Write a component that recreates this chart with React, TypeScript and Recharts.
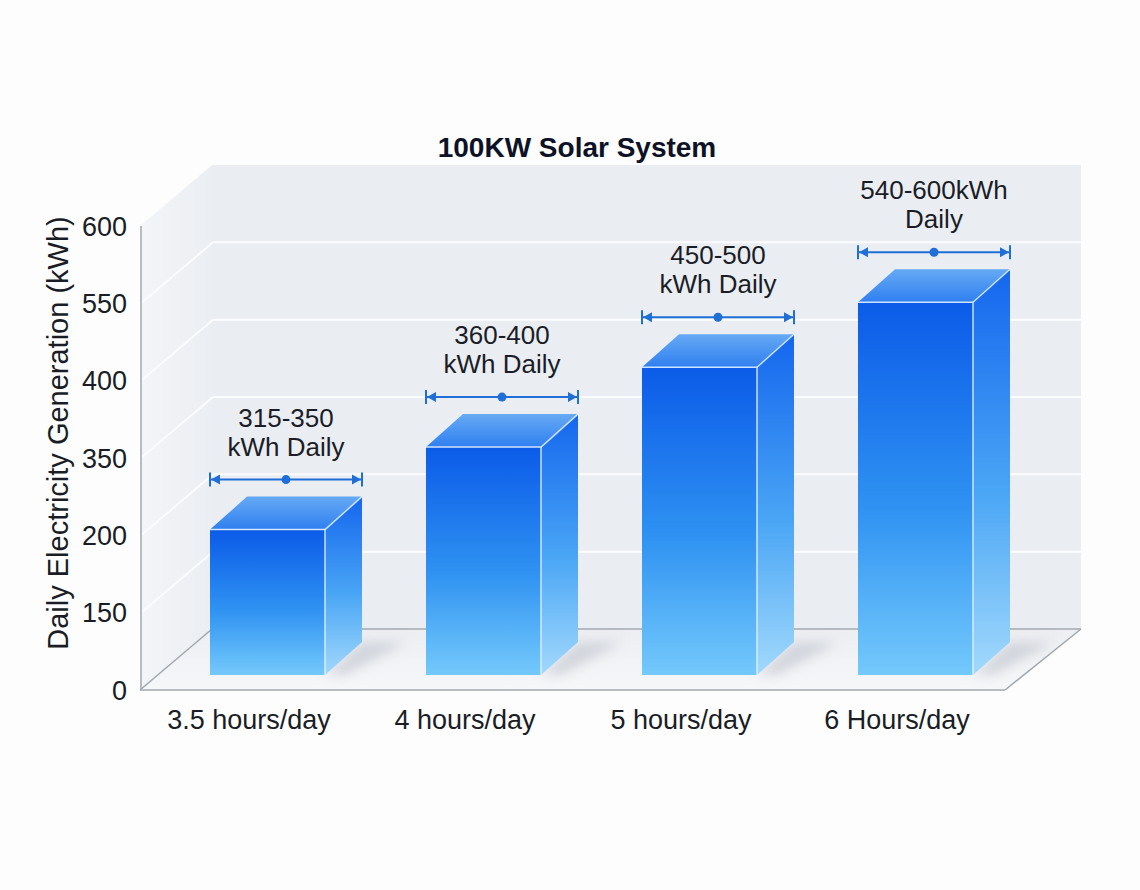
import { BarChart, Bar, XAxis, YAxis, CartesianGrid, LabelList, usePlotArea } from 'recharts'

// axis labels as printed on the chart (evenly spaced, not linear)
const TICK_VALUES = [0, 150, 200, 350, 400, 550, 600]
const CATEGORIES = ['3.5 hours/day', '4 hours/day', '5 hours/day', '6 Hours/day']
// bar heights
const KWH_VALUES = [194, 342, 399, 523]
const RANGE_TOP = ['315-350', '360-400', '450-500', '540-600kWh']
const RANGE_BOTTOM = ['kWh Daily', 'kWh Daily', 'kWh Daily', 'Daily']

const FONT = '"Liberation Sans", Arial, sans-serif'
const LINE_GREY = '#a3a8af'

// room depth (back wall offset) and bar offsets
const ROOM_DX = 72
const ROOM_DX_R = 76
const ROOM_DY = -61
const BAR_SHIFT_X = 18
const BAR_SHIFT_Y = -15
const BAR_DX = 37
const BAR_DY = -33

// map a printed value onto the evenly spaced tick slots
function toSlot(v: number) {
  for (let i = 0; i < TICK_VALUES.length - 1; i++) {
    const a = TICK_VALUES[i]
    const b = TICK_VALUES[i + 1]
    if (v >= a && v <= b) return i + (v - a) / (b - a)
  }
  return TICK_VALUES.length - 1
}

const data = CATEGORIES.map((name, i) => ({
  name,
  kwh: KWH_VALUES[i],
  slot: toSlot(KWH_VALUES[i]),
  top: RANGE_TOP[i],
  bottom: RANGE_BOTTOM[i],
}))

function Walls({ x, y, width, height }: { x: number; y: number; width: number; height: number }) {
  const l = x - 1
  const r = x + width
  const b = y + height
  return (
    <g>
      <polygon
        points={`${l},${y} ${l + ROOM_DX},${y + ROOM_DY} ${l + ROOM_DX},${b + ROOM_DY} ${l},${b}`}
        fill="url(#leftWall)"
      />
      <rect x={l + ROOM_DX} y={y + ROOM_DY} width={r + ROOM_DX_R - l - ROOM_DX} height={height} fill="#eaedf2" />
      <polygon
        points={`${l},${b} ${l + ROOM_DX},${b + ROOM_DY} ${r + ROOM_DX_R},${b + ROOM_DY} ${r},${b}`}
        fill="url(#floor)"
      />
      <line x1={l + ROOM_DX} y1={b + ROOM_DY} x2={r + ROOM_DX_R} y2={b + ROOM_DY} stroke={LINE_GREY} strokeWidth={1.5} />
      <line x1={l} y1={b} x2={l + ROOM_DX} y2={b + ROOM_DY} stroke={LINE_GREY} strokeWidth={1.5} />
      <line x1={l} y1={b} x2={r} y2={b} stroke={LINE_GREY} strokeWidth={1.5} />
      <line x1={r} y1={b} x2={r + ROOM_DX_R} y2={b + ROOM_DY} stroke={LINE_GREY} strokeWidth={1.5} />
    </g>
  )
}

function Title() {
  const plot = usePlotArea()
  if (!plot) return null
  return (
    <text
      x={plot.x + plot.width / 2 + 4}
      y={157}
      textAnchor="middle"
      fontFamily={FONT}
      fontSize={28}
      fontWeight={700}
      fill="#0d1226"
    >
      100KW Solar System
    </text>
  )
}

// horizontal grid line projected onto the back wall; the first one also lays the room under the grid
function GridLine(props: any) {
  const { x1, y1, x2, y2, index } = props
  const plot = usePlotArea()
  if (!plot) return null
  const onEdge = Math.abs(y1 - plot.y) < 1 || Math.abs(y1 - (plot.y + plot.height)) < 1
  return (
    <g>
      {index === 0 && <Walls {...plot} />}
      {!onEdge && (
        <>
          <line x1={x1 + ROOM_DX} y1={y1 + ROOM_DY} x2={x2 + ROOM_DX_R} y2={y2 + ROOM_DY} stroke="#fbfcfe" strokeWidth={2} />
          <line x1={x1} y1={y1} x2={x1 + ROOM_DX} y2={y1 + ROOM_DY} stroke="#fbfcfe" strokeWidth={2} />
        </>
      )}
    </g>
  )
}

function Box3D(props: any) {
  const { x, y, width, height } = props
  const fx = x + BAR_SHIFT_X
  const fy = y + BAR_SHIFT_Y
  const fb = y + height + BAR_SHIFT_Y
  const fr = fx + width
  return (
    <g>
      <polygon
        points={`${fr},${fb} ${fr + BAR_DX},${fb + BAR_DY} ${fr + BAR_DX + 45},${fb + BAR_DY} ${fr + 20},${fb}`}
        fill="#b9bec7"
        opacity={0.55}
        filter="url(#softShadow)"
      />
      <rect x={fx} y={fy} width={width} height={fb - fy} fill="url(#frontFace)" />
      <polygon
        points={`${fr},${fy} ${fr + BAR_DX},${fy + BAR_DY} ${fr + BAR_DX},${fb + BAR_DY} ${fr},${fb}`}
        fill="url(#sideFace)"
      />
      <polygon
        points={`${fx},${fy} ${fx + BAR_DX},${fy + BAR_DY} ${fr + BAR_DX},${fy + BAR_DY} ${fr},${fy}`}
        fill="url(#topFace)"
      />
      <polyline
        points={`${fx},${fy} ${fr},${fy} ${fr},${fb}`}
        fill="none"
        stroke="#e8f4ff"
        strokeOpacity={0.85}
        strokeWidth={1.5}
      />
      <line x1={fr} y1={fy} x2={fr + BAR_DX} y2={fy + BAR_DY} stroke="#e8f4ff" strokeOpacity={0.8} strokeWidth={1.5} />
    </g>
  )
}

function RangeLabel(props: any) {
  const { x, y, width, index } = props
  const row = data[index]
  const fx = x + BAR_SHIFT_X
  const lx = fx
  const rx = fx + width + BAR_DX
  const cy = y + BAR_SHIFT_Y + BAR_DY - 17
  const cx = (lx + rx) / 2
  const blue = '#1f6fd6'
  return (
    <g>
      <line x1={lx} y1={cy} x2={rx} y2={cy} stroke={blue} strokeWidth={2} />
      <line x1={lx} y1={cy - 7} x2={lx} y2={cy + 7} stroke={blue} strokeWidth={2} />
      <line x1={rx} y1={cy - 7} x2={rx} y2={cy + 7} stroke={blue} strokeWidth={2} />
      <polygon points={`${lx + 1},${cy} ${lx + 10},${cy - 5} ${lx + 10},${cy + 5}`} fill={blue} />
      <polygon points={`${rx - 1},${cy} ${rx - 10},${cy - 5} ${rx - 10},${cy + 5}`} fill={blue} />
      <circle cx={cx} cy={cy} r={4.5} fill={blue} />
      <text x={cx} y={cy - 62} textAnchor="middle" dominantBaseline="central" fontFamily={FONT} fontSize={26} fill="#1a1d26">
        {row.top}
      </text>
      <text x={cx} y={cy - 33} textAnchor="middle" dominantBaseline="central" fontFamily={FONT} fontSize={26} fill="#1a1d26">
        {row.bottom}
      </text>
    </g>
  )
}

function YLabel(props: any) {
  const { viewBox } = props
  const cx = viewBox.x - 13
  const cy = viewBox.y + viewBox.height / 2 - 25
  return (
    <text
      x={cx}
      y={cy}
      transform={`rotate(-90, ${cx}, ${cy})`}
      textAnchor="middle"
      fontFamily={FONT}
      fontSize={29}
      fill="#1a1d26"
    >
      Daily Electricity Generation (kWh)
    </text>
  )
}

export default function App() {
  return (
    <div style={{ position: 'absolute', left: 0, top: 0, width: 1140, height: 890, background: '#fdfdfd' }}>
      <BarChart
        width={1140}
        height={890}
        data={data}
        margin={{ top: 226, right: 135, bottom: 170, left: 81 }}
        barSize={115}
      >
        <defs>
          <linearGradient id="leftWall" x1="0" y1="0" x2="1" y2="0">
            <stop offset="0%" stopColor="#f3f5f8" />
            <stop offset="100%" stopColor="#ebeef2" />
          </linearGradient>
          <linearGradient id="floor" x1="0" y1="0" x2="0" y2="1">
            <stop offset="0%" stopColor="#eceef2" />
            <stop offset="100%" stopColor="#f6f7f9" />
          </linearGradient>
          <linearGradient id="frontFace" x1="0" y1="0" x2="0" y2="1">
            <stop offset="0%" stopColor="#0b5be8" />
            <stop offset="55%" stopColor="#2f92f2" />
            <stop offset="100%" stopColor="#74c9fb" />
          </linearGradient>
          <linearGradient id="sideFace" x1="0" y1="0" x2="0" y2="1">
            <stop offset="0%" stopColor="#1466ee" />
            <stop offset="55%" stopColor="#4aa6f5" />
            <stop offset="100%" stopColor="#a2d9fc" />
          </linearGradient>
          <linearGradient id="topFace" x1="0" y1="1" x2="0" y2="0">
            <stop offset="0%" stopColor="#2f7ff0" />
            <stop offset="100%" stopColor="#66aaf4" />
          </linearGradient>
          <filter id="softShadow" x="-50%" y="-50%" width="200%" height="200%">
            <feGaussianBlur stdDeviation="6" />
          </filter>
        </defs>
        <CartesianGrid vertical={false} horizontal={(p: any) => <GridLine key={p.key} {...p} />} />
        <Title />
        <YAxis
          type="number"
          dataKey="slot"
          domain={[0, TICK_VALUES.length - 1]}
          ticks={TICK_VALUES.map((_, i) => i)}
          tickFormatter={(i: number) => String(TICK_VALUES[i])}
          width={60}
          axisLine={{ stroke: LINE_GREY, strokeWidth: 1.5 }}
          tickLine={false}
          tickMargin={8}
          tick={{ fontSize: 27, fill: '#1a1d26', fontFamily: FONT }}
          label={<YLabel />}
        />
        <XAxis
          dataKey="name"
          axisLine={false}
          tickLine={false}
          tickMargin={14}
          tick={{ fontSize: 27, fill: '#1a1d26', fontFamily: FONT }}
        />
        <Bar dataKey="slot" shape={<Box3D />} isAnimationActive={false}>
          <LabelList dataKey="top" content={<RangeLabel />} />
        </Bar>
      </BarChart>
    </div>
  )
}
